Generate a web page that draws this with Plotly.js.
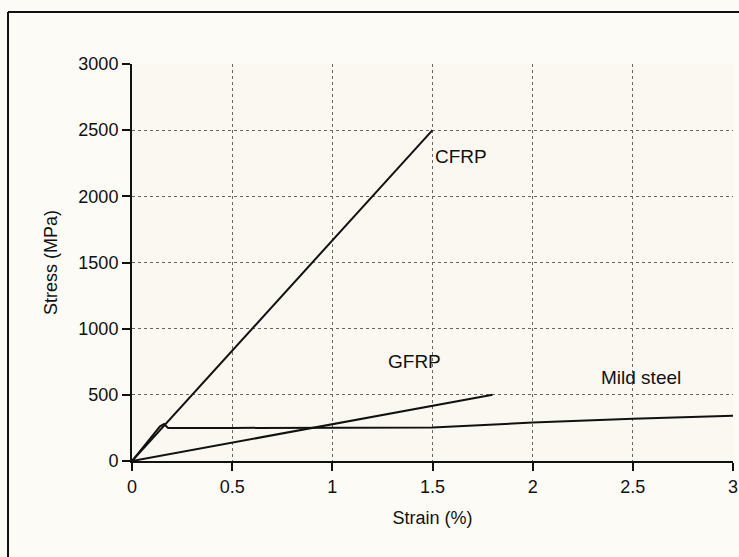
<!DOCTYPE html>
<html>
<head>
<meta charset="utf-8">
<script src="https://cdn.plot.ly/plotly-3.0.1.min.js"></script>
<style>
  html, body { margin: 0; padding: 0; background: #fcfbf5; }
  #chart { width: 739px; height: 557px; }
</style>
</head>
<body>
<div id="chart"></div>
<script>
// Strain (%) and stress (MPa)
const cfrpStrain = [0, 1.5];
const cfrpStress = [0, 2500];

const gfrpStrain = [0, 1.8];
const gfrpStress = [0, 500];

const steelStrain = [0, 0.09, 0.14, 0.16, 0.17, 0.18, 0.5, 1.0, 1.5, 2.0, 2.5, 3.0];
const steelStress = [0, 170, 262, 280, 265, 250, 250, 250, 253, 290, 320, 342];

const seriesNames = ['CFRP', 'GFRP', 'Mild steel'];
const labelX = [1.64, 1.41, 2.54];
const labelY = [2300, 750, 630];

const xTicks = [0, 0.5, 1, 1.5, 2, 2.5, 3];
const xTickText = ['0', '0.5', '1', '1.5', '2', '2.5', '3'];
const yTicks = [0, 500, 1000, 1500, 2000, 2500, 3000];
const yTickText = ['0', '500', '1000', '1500', '2000', '2500', '3000'];

const lineStyle = { color: '#111111', width: 2 };
const FONT = 'Liberation Sans, Arial, Helvetica, sans-serif';

const traces = [
  { x: cfrpStrain, y: cfrpStress, name: seriesNames[0], mode: 'lines', line: lineStyle, cliponaxis: false },
  { x: gfrpStrain, y: gfrpStress, name: seriesNames[1], mode: 'lines', line: lineStyle, cliponaxis: false },
  { x: steelStrain, y: steelStress, name: seriesNames[2], mode: 'lines', line: lineStyle, cliponaxis: false }
];

const annotations = seriesNames.map((n, i) => ({
  x: labelX[i], y: labelY[i], xref: 'x', yref: 'y', text: n, showarrow: false,
  font: { family: FONT, size: 19, color: '#111111' }
}));

const layout = {
  width: 739, height: 557,
  margin: { l: 132, r: 6, t: 64, b: 96 },
  paper_bgcolor: '#fcfbf5',
  plot_bgcolor: '#faf8f0',
  showlegend: false,
  font: { family: FONT, size: 18, color: '#111111' },
  xaxis: {
    range: [0, 3], tickvals: xTicks, ticktext: xTickText,
    showline: true, linecolor: '#111111', linewidth: 2,
    ticks: 'outside', ticklen: 8, tickwidth: 2, tickcolor: '#111111',
    showgrid: true, gridcolor: '#666666', griddash: 'dot', gridwidth: 1,
    zeroline: false, mirror: false,
    tickfont: { family: FONT, size: 18, color: '#111111' },
    title: { text: 'Strain (%)', font: { family: FONT, size: 18, color: '#111111' }, standoff: 16 }
  },
  yaxis: {
    range: [0, 3000], tickvals: yTicks, ticktext: yTickText,
    showline: true, linecolor: '#111111', linewidth: 2,
    ticks: 'outside', ticklen: 8, tickwidth: 2, tickcolor: '#111111',
    showgrid: true, gridcolor: '#666666', griddash: 'dot', gridwidth: 1,
    zeroline: false, mirror: false,
    tickfont: { family: FONT, size: 18, color: '#111111' },
    title: { text: 'Stress (MPa)', font: { family: FONT, size: 18, color: '#111111' }, standoff: 16 }
  },
  annotations: annotations,
  shapes: [
    // figure frame (open at right and bottom, as in the cropped scan)
    { type: 'line', xref: 'paper', yref: 'paper', x0: -0.2063, x1: 1.05, y0: 1.131, y1: 1.131,
      line: { color: '#111111', width: 2 } },
    { type: 'line', xref: 'paper', yref: 'paper', x0: -0.2063, x1: -0.2063, y0: 1.131, y1: -0.3,
      line: { color: '#111111', width: 2 } }
  ]
};

Plotly.newPlot('chart', traces, layout, { displayModeBar: false, staticPlot: true });
</script>
</body>
</html>
